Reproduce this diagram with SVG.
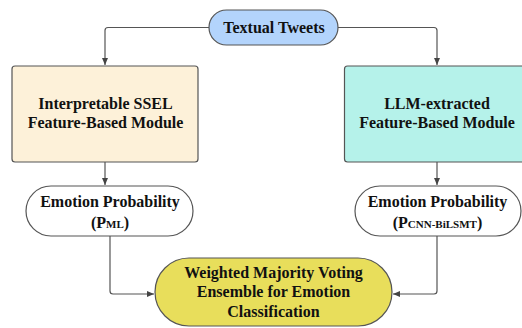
<svg xmlns="http://www.w3.org/2000/svg" width="522" height="328" viewBox="0 0 522 328">
<style>
.t{font-family:"Liberation Serif","Times New Roman",serif;font-weight:bold;font-size:16px;fill:#111;text-anchor:middle}
.s{font-size:11px}
.n{stroke:#555;stroke-width:1.2}
.c{fill:none;stroke:#555;stroke-width:1.2}
</style>
<defs>
<marker id="ah" markerWidth="8" markerHeight="8" refX="7" refY="4" orient="auto" markerUnits="userSpaceOnUse">
<path d="M0,1 L7,4 L0,7 Z" fill="#444"/>
</marker>
</defs>
<rect width="522" height="328" fill="#fff"/>
<g id="connectors">
<path class="c" d="M209,27.5 H108 Q105,27.5 105,30.5 V65" marker-end="url(#ah)"/>
<path class="c" d="M338,27.5 H434 Q437,27.5 437,30.5 V65" marker-end="url(#ah)"/>
<path class="c" d="M105,162 V185" marker-end="url(#ah)"/>
<path class="c" d="M437,162 V185" marker-end="url(#ah)"/>
<path class="c" d="M110,236 V291 Q110,294 113,294 H154" marker-end="url(#ah)"/>
<path class="c" d="M437,236 V291 Q437,294 434,294 H393" marker-end="url(#ah)"/>
</g>
<g id="textual-tweets">
<rect class="n" x="209" y="10" width="129" height="35" rx="17.5" fill="#b3d4fc"/>
<text class="t" x="274" y="32.5">Textual Tweets</text>
</g>
<g id="ssel-module">
<rect class="n" x="12" y="66" width="186" height="96" rx="3" fill="#fdf1d9"/>
<text class="t" x="105.5" y="109">Interpretable SSEL</text>
<text class="t" x="105.5" y="127.5">Feature-Based Module</text>
</g>
<g id="llm-module">
<rect class="n" x="344.5" y="66" width="186" height="96" rx="3" fill="#b5f2ea"/>
<text class="t" x="437" y="109">LLM-extracted</text>
<text class="t" x="437" y="128">Feature-Based Module</text>
</g>
<g id="prob-ml">
<rect class="n" x="26" y="186" width="167" height="50" rx="25" fill="#fff"/>
<text class="t" x="110" y="206.5">Emotion Probability</text>
<text class="t" x="110" y="227.5">(P<tspan class="s">ML</tspan>)</text>
</g>
<g id="prob-cnn">
<rect class="n" x="355" y="186" width="166" height="50" rx="25" fill="#fff"/>
<text class="t" x="437.5" y="206.5">Emotion Probability</text>
<text class="t" x="437.5" y="227.5">(P<tspan class="s">CNN-BiLSMT</tspan>)</text>
</g>
<g id="ensemble">
<rect class="n" x="155" y="258" width="237" height="68" rx="34" fill="#e8de5b"/>
<text class="t" x="273.5" y="277.5">Weighted Majority Voting</text>
<text class="t" x="273.5" y="297">Ensemble for Emotion</text>
<text class="t" x="273.5" y="316.5">Classification</text>
</g>
</svg>
